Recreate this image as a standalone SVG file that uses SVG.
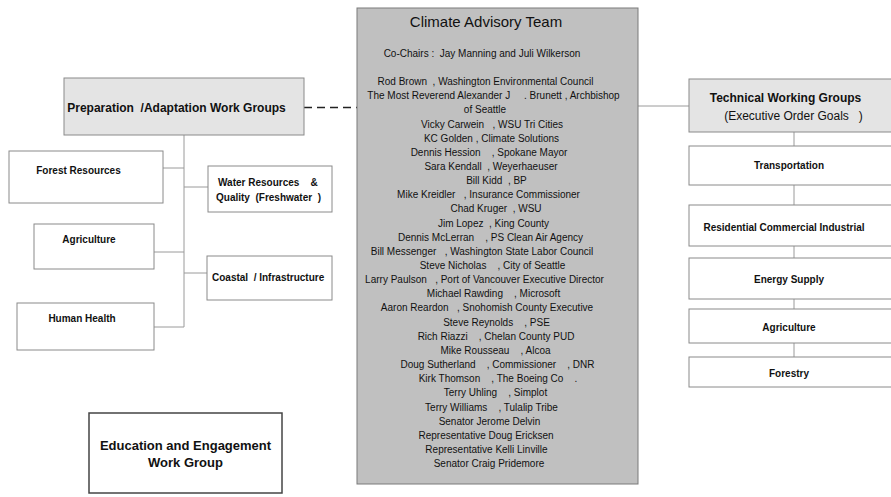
<svg xmlns="http://www.w3.org/2000/svg" width="891" height="497" viewBox="0 0 891 497" xml:space="preserve">
<style>
text{font-family:"Liberation Sans",Arial,sans-serif;fill:#111;white-space:pre}
.box{fill:#fff;stroke:#8a8a8a;stroke-width:1}
.hdr{fill:#e4e4e4;stroke:#8a8a8a;stroke-width:1}
.b10{font-size:10px;font-weight:bold}
.b12{font-size:12px;font-weight:bold}
.m{text-anchor:middle}
.body{font-size:10px;text-anchor:middle}
.ln{stroke:#9a9a9a;stroke-width:1;fill:none}
</style>
<rect width="891" height="497" fill="#fff"/>
<g id="connectors">
<line class="ln" x1="184" y1="135" x2="184" y2="327"/>
<line class="ln" x1="163" y1="168" x2="184" y2="168"/>
<line class="ln" x1="184" y1="187" x2="208" y2="187"/>
<line class="ln" x1="154" y1="252" x2="184" y2="252"/>
<line class="ln" x1="184" y1="273" x2="207" y2="273"/>
<line class="ln" x1="154" y1="327" x2="184" y2="327"/>
<line x1="304" y1="107.5" x2="357" y2="107.5" stroke="#222" stroke-width="1.5" stroke-dasharray="8,5"/>
<line class="ln" x1="638" y1="106" x2="689" y2="106"/>
<line class="ln" x1="794" y1="132" x2="794" y2="357"/>
</g>
<g id="cat">
<rect x="357" y="8" width="281" height="476" fill="#c0c0c0" stroke="#7a7a7a" stroke-width="1"/>
<text x="486" y="27" font-size="15" class="m">Climate Advisory Team</text>
<text x="482" y="57" class="body">Co-Chairs :  Jay Manning and Juli Wilkerson</text>
<text x="485.5" y="85" class="body">Rod Brown  , Washington Environmental Council</text>
<text x="493.5" y="99.2" class="body">The Most Reverend Alexander J     . Brunett , Archbishop</text>
<text x="485" y="113.3" class="body">of Seattle</text>
<text x="492" y="127.5" class="body">Vicky Carwein   , WSU Tri Cities</text>
<text x="491.5" y="141.6" class="body">KC Golden , Climate Solutions</text>
<text x="489" y="155.8" class="body">Dennis Hession    , Spokane Mayor</text>
<text x="491" y="169.9" class="body">Sara Kendall  , Weyerhaeuser</text>
<text x="496.5" y="184.1" class="body">Bill Kidd  , BP</text>
<text x="488.5" y="198.2" class="body">Mike Kreidler   , Insurance Commissioner</text>
<text x="496" y="212.4" class="body">Chad Kruger  , WSU</text>
<text x="493.5" y="226.5" class="body">Jim Lopez  , King County</text>
<text x="490.5" y="240.7" class="body">Dennis McLerran    , PS Clean Air Agency</text>
<text x="482" y="254.8" class="body">Bill Messenger   , Washington State Labor Council</text>
<text x="492.5" y="269" class="body">Steve Nicholas    , City of Seattle</text>
<text x="484.5" y="283.1" class="body">Larry Paulson   , Port of Vancouver Executive Director</text>
<text x="493.5" y="297.3" class="body">Michael Rawding    , Microsoft</text>
<text x="487" y="311.4" class="body">Aaron Reardon   , Snohomish County Executive</text>
<text x="496.5" y="325.6" class="body">Steve Reynolds    , PSE</text>
<text x="496" y="339.7" class="body">Rich Riazzi    , Chelan County PUD</text>
<text x="495.5" y="353.9" class="body">Mike Rousseau    , Alcoa</text>
<text x="497.5" y="368" class="body">Doug Sutherland    , Commissioner    , DNR</text>
<text x="498" y="382.2" class="body">Kirk Thomson    , The Boeing Co    .</text>
<text x="495.5" y="396.3" class="body">Terry Uhling    , Simplot</text>
<text x="491.5" y="410.5" class="body">Terry Williams    , Tulalip Tribe</text>
<text x="489.5" y="424.6" class="body">Senator Jerome Delvin</text>
<text x="486" y="438.8" class="body">Representative Doug Ericksen</text>
<text x="486.5" y="452.9" class="body">Representative Kelli Linville</text>
<text x="489" y="467.1" class="body">Senator Craig Pridemore</text>
</g>
<g id="prep">
<rect class="hdr" x="64" y="78" width="240" height="57"/>
<text x="176.5" y="111.5" class="b12 m">Preparation  /Adaptation Work Groups</text>
</g>
<g id="forest">
<rect class="box" x="9" y="151" width="154" height="52"/>
<text x="78.5" y="173.5" class="b10 m">Forest Resources</text>
</g>
<g id="water">
<rect class="box" x="208" y="166" width="124" height="46"/>
<text x="218" y="185.5" class="b10">Water Resources    &amp;</text>
<text x="216" y="200.5" class="b10">Quality  (Freshwater  )</text>
</g>
<g id="agri-left">
<rect class="box" x="34" y="224" width="120" height="45"/>
<text x="89" y="242.5" class="b10 m">Agriculture</text>
</g>
<g id="coastal">
<rect class="box" x="207" y="256" width="125" height="44"/>
<text x="212" y="280.5" class="b10">Coastal  / Infrastructure</text>
</g>
<g id="health">
<rect class="box" x="17" y="303" width="137" height="47"/>
<text x="82" y="321.5" class="b10 m">Human Health</text>
</g>
<g id="education">
<rect x="89" y="413" width="193" height="80" fill="#fff" stroke="#444" stroke-width="1.5"/>
<text x="185.5" y="449.5" class="m" font-size="13" font-weight="bold">Education and Engagement</text>
<text x="185.5" y="466.5" class="m" font-size="13" font-weight="bold">Work Group</text>
</g>
<g id="twg">
<rect class="hdr" x="689" y="79" width="205" height="53"/>
<text x="785.5" y="101.5" class="b12 m">Technical Working Groups</text>
<text x="793.5" y="120" class="m" font-size="12">(Executive Order Goals   )</text>
</g>
<g id="transportation">
<rect class="box" x="689" y="146" width="205" height="39"/>
<text x="789" y="168.5" class="b10 m">Transportation</text>
</g>
<g id="rci">
<rect class="box" x="689" y="205" width="205" height="41"/>
<text x="784" y="230.5" class="b10 m">Residential Commercial Industrial</text>
</g>
<g id="energy">
<rect class="box" x="689" y="258" width="205" height="41"/>
<text x="789" y="282.5" class="b10 m">Energy Supply</text>
</g>
<g id="agri-right">
<rect class="box" x="689" y="309" width="205" height="34"/>
<text x="789" y="330.5" class="b10 m">Agriculture</text>
</g>
<g id="forestry">
<rect class="box" x="689" y="357" width="205" height="30"/>
<text x="789" y="376.5" class="b10 m">Forestry</text>
</g>
</svg>
